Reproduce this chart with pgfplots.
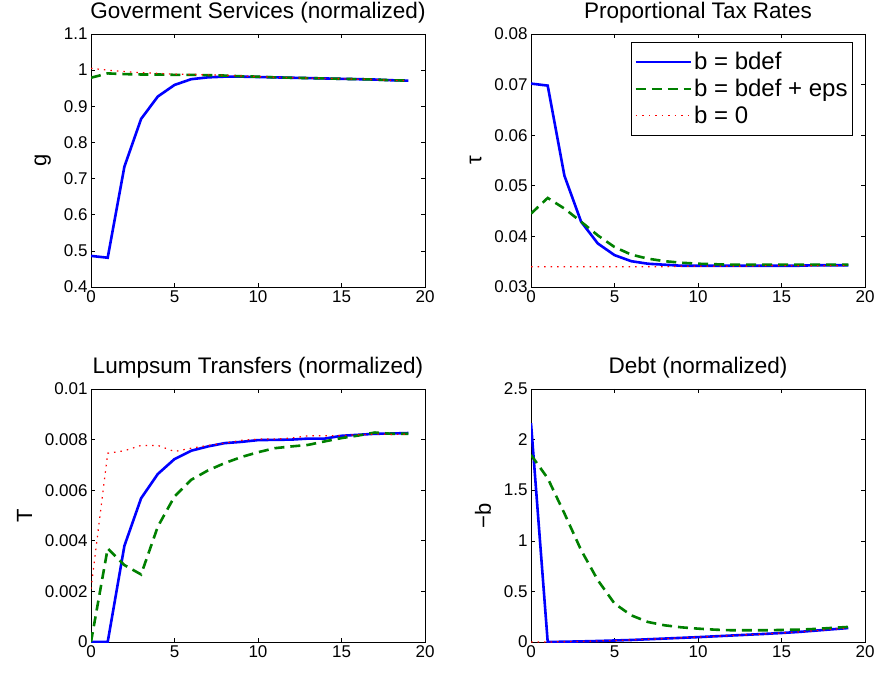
\documentclass[border=0pt]{standalone}
\usepackage{fontspec}
\setmainfont{Liberation Sans}
\usepackage{pgfplots}
\pgfplotsset{compat=1.18}
\definecolor{mblue}{rgb}{0,0,1}
\definecolor{mgreen}{rgb}{0,0.5,0}
\definecolor{mred}{rgb}{1,0,0}
\pgfplotsset{
  mstyle/.style={
    scale only axis, width=334pt, height=253pt, anchor=south west,
    xmin=0, xmax=20, xtick={0,5,10,15,20},
    scaled x ticks=false, scaled y ticks=false,
    tick align=inside, tick pos=both, xticklabel pos=lower, yticklabel pos=left,
    major tick length=4pt, axis line style={line width=0.8pt}, every tick/.style={black, line width=0.6pt},
    tick label style={font=\fontsize{17}{20}\selectfont},
    /pgf/number format/assume math mode=true,
    label style={font=\fontsize{22}{26}\selectfont},
    ylabel shift=6pt,
    title style={font=\fontsize{22.5}{27}\selectfont, at={(axis description cs:0.5,1)}, anchor=base, yshift=9pt},
    legend image code/.code={\draw[##1] (0pt,0pt) -- (49pt,0pt); \path (0pt,0pt) -- (55pt,0pt);},
  },
  bl/.style={mblue, line width=2.6pt},
  gr/.style={mgreen, line width=2.6pt, dash pattern=on 10pt off 6pt},
  rd/.style={mred, line width=1.2pt, dash pattern=on 1.5pt off 5pt},
}
\begin{document}
\begin{tikzpicture}
\useasboundingbox (0,0) rectangle (875pt,672pt);
% top-left
\begin{axis}[mstyle, at={(91pt,385pt)}, ymin=0.4, ymax=1.1,
  ytick={0.4,0.5,0.6,0.7,0.8,0.9,1,1.1}, yticklabels={0.4,0.5,0.6,0.7,0.8,0.9,1,1.1},
  title={Goverment Services (normalized)}, ylabel={g}]
\addplot[bl] coordinates {(0,0.486)(1,0.481)(2,0.733)(3,0.865)(4,0.927)(5,0.959)(6,0.975)(7,0.980)(8,0.982)(9,0.982)(10,0.981)(11,0.980)(12,0.979)(13,0.978)(14,0.977)(15,0.976)(16,0.975)(17,0.974)(18,0.972)(19,0.971)};
\addplot[gr] coordinates {(0,0.979)(1,0.991)(2,0.989)(3,0.988)(4,0.988)(5,0.987)(6,0.987)(7,0.986)(8,0.985)(9,0.983)(10,0.982)(11,0.980)(12,0.979)(13,0.978)(14,0.977)(15,0.976)(16,0.975)(17,0.974)(18,0.972)(19,0.971)};
\addplot[rd] coordinates {(0,1.005)(1,1.000)(2,0.996)(3,0.993)(4,0.991)(5,0.989)(6,0.988)(7,0.987)(8,0.986)(9,0.984)(10,0.982)(11,0.980)(12,0.979)(13,0.978)(14,0.977)(15,0.976)(16,0.975)(17,0.974)(18,0.972)(19,0.971)};
\end{axis}
% top-right
\begin{axis}[mstyle, at={(531pt,385pt)}, ymin=0.03, ymax=0.08,
  ytick={0.03,0.04,0.05,0.06,0.07,0.08}, yticklabels={0.03,0.04,0.05,0.06,0.07,0.08},
  title={Proportional Tax Rates}, ylabel={τ},
  legend style={at={(axis description cs:0.964,0.968)}, anchor=north east, font=\fontsize{24}{28}\selectfont, draw=black, line width=0.8pt, row sep=4pt, inner xsep=3pt, inner ysep=8pt},
  legend cell align=left]
\addplot[bl] coordinates {(0,0.0702)(1,0.0698)(2,0.0520)(3,0.0429)(4,0.0386)(5,0.0363)(6,0.0351)(7,0.0346)(8,0.0344)(9,0.0342)(10,0.0342)(11,0.0342)(12,0.0342)(13,0.0342)(14,0.0342)(15,0.0342)(16,0.0342)(17,0.0343)(18,0.0343)(19,0.0343)};
\addplot[gr] coordinates {(0,0.0445)(1,0.0476)(2,0.0455)(3,0.0429)(4,0.0402)(5,0.0379)(6,0.0364)(7,0.0356)(8,0.0351)(9,0.0348)(10,0.0346)(11,0.0345)(12,0.0344)(13,0.0344)(14,0.0344)(15,0.0344)(16,0.0344)(17,0.0344)(18,0.0344)(19,0.0344)};
\addplot[rd] coordinates {(0,0.0340)(1,0.0340)(2,0.0340)(3,0.0340)(4,0.0340)(5,0.0340)(6,0.0340)(7,0.0340)(8,0.0340)(9,0.0341)(10,0.0341)(11,0.0341)(12,0.0341)(13,0.0341)(14,0.0342)(15,0.0342)(16,0.0342)(17,0.0342)(18,0.0342)(19,0.0342)};
\legend{b = bdef, b = bdef + eps, b = 0}
\end{axis}
% bottom-left
\begin{axis}[mstyle, at={(91pt,30pt)}, ymin=0, ymax=0.01,
  ytick={0,0.002,0.004,0.006,0.008,0.01}, yticklabels={0,0.002,0.004,0.006,0.008,0.01},
  title={Lumpsum Transfers (normalized)}, ylabel={T}]
\addplot[bl] coordinates {(0,0)(1,0)(2,0.00380)(3,0.00568)(4,0.00664)(5,0.00723)(6,0.00756)(7,0.00773)(8,0.00786)(9,0.00791)(10,0.00798)(11,0.00799)(12,0.00800)(13,0.00804)(14,0.00804)(15,0.00815)(16,0.00819)(17,0.00823)(18,0.00824)(19,0.00826)};
\addplot[gr] coordinates {(0,0)(1,0.00370)(2,0.00304)(3,0.00267)(4,0.00456)(5,0.00575)(6,0.00641)(7,0.00678)(8,0.00707)(9,0.00731)(10,0.00750)(11,0.00766)(12,0.00773)(13,0.00779)(14,0.00793)(15,0.00806)(16,0.00816)(17,0.00828)(18,0.00823)(19,0.00823)};
\addplot[rd] coordinates {(0,0.0021)(1,0.00746)(2,0.00756)(3,0.00777)(4,0.00777)(5,0.00753)(6,0.00766)(7,0.00777)(8,0.00786)(9,0.00797)(10,0.00802)(11,0.00802)(12,0.00806)(13,0.00815)(14,0.00815)(15,0.00816)(16,0.00819)(17,0.00822)(18,0.00820)(19,0.00822)};
\end{axis}
% bottom-right
\begin{axis}[mstyle, at={(531pt,30pt)}, ymin=0, ymax=2.5,
  ytick={0,0.5,1,1.5,2,2.5}, yticklabels={0,0.5,1,1.5,2,2.5},
  title={Debt (normalized)}, ylabel={−b}]
\addplot[bl] coordinates {(0,2.163)(1,0)(2,0.003)(3,0.006)(4,0.010)(5,0.015)(6,0.020)(7,0.027)(8,0.034)(9,0.041)(10,0.048)(11,0.056)(12,0.064)(13,0.072)(14,0.080)(15,0.089)(16,0.099)(17,0.112)(18,0.125)(19,0.138)};
\addplot[gr] coordinates {(0,1.849)(1,1.618)(2,1.271)(3,0.908)(4,0.611)(5,0.380)(6,0.264)(7,0.198)(8,0.165)(9,0.145)(10,0.132)(11,0.122)(12,0.116)(13,0.116)(14,0.116)(15,0.119)(16,0.122)(17,0.129)(18,0.139)(19,0.149)};
\addplot[rd] coordinates {(0,0)(1,0)(2,0.003)(3,0.006)(4,0.010)(5,0.015)(6,0.020)(7,0.027)(8,0.034)(9,0.041)(10,0.048)(11,0.056)(12,0.064)(13,0.072)(14,0.080)(15,0.089)(16,0.099)(17,0.112)(18,0.125)(19,0.138)};
\end{axis}
\end{tikzpicture}
\end{document}
